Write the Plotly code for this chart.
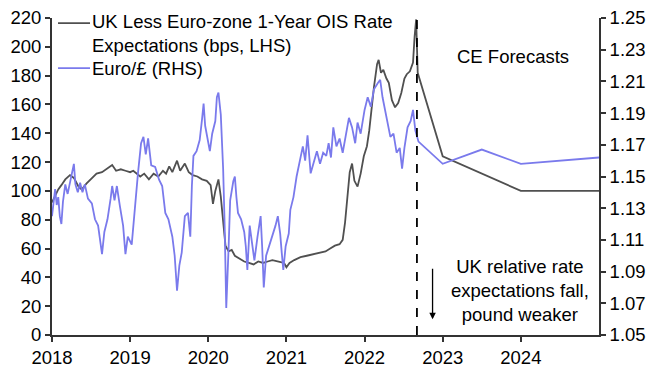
import plotly.graph_objects as go

# ---- data ----
ois_t = [2018.00, 2018.04, 2018.08, 2018.12, 2018.17, 2018.23, 2018.28, 2018.34, 2018.38, 2018.44,
         2018.50, 2018.57, 2018.64, 2018.71, 2018.77, 2018.82, 2018.88, 2018.94, 2019.00, 2019.04,
         2019.09, 2019.13, 2019.18, 2019.24, 2019.30, 2019.36, 2019.42, 2019.46, 2019.50, 2019.54,
         2019.60, 2019.64, 2019.70, 2019.75, 2019.80, 2019.86, 2019.92, 2019.98, 2020.03, 2020.06,
         2020.09, 2020.13, 2020.16, 2020.19, 2020.22, 2020.26, 2020.30, 2020.34, 2020.40, 2020.46,
         2020.52, 2020.58, 2020.64, 2020.70, 2020.76, 2020.82, 2020.90, 2020.97, 2021.00, 2021.04,
         2021.10, 2021.18, 2021.26, 2021.34, 2021.42, 2021.50, 2021.56, 2021.62, 2021.68, 2021.72,
         2021.75, 2021.78, 2021.81, 2021.84, 2021.87, 2021.91, 2021.95, 2021.99, 2022.03, 2022.06,
         2022.09, 2022.12, 2022.16, 2022.18, 2022.21, 2022.24, 2022.28, 2022.31, 2022.35, 2022.39,
         2022.43, 2022.47, 2022.51, 2022.54, 2022.58, 2022.62, 2022.64, 2022.66]
ois_v = [92, 97, 101, 104, 108, 111, 109, 103, 101, 105,
         108, 112, 113, 116, 118, 114, 115, 114, 113, 114,
         112, 110, 112, 108, 112, 110, 114, 112, 117, 113,
         121, 114, 119, 113, 111, 110, 108, 107, 104, 91,
         100, 108, 96, 80, 62, 58, 59, 55, 53, 51,
         50, 49, 51, 50, 51, 52, 51, 50, 47, 50,
         52, 54, 55, 56, 57, 58, 60, 62, 63, 66,
         78, 95, 113, 119, 107, 103, 112, 124, 131, 142,
         158, 172, 188, 191, 182, 184, 178, 175, 163, 158,
         161, 168, 178, 181, 183, 189, 207, 219]
ois_fc_t = [2022.68, 2023.0, 2024.0, 2025.0]
ois_fc_v = [182, 124, 100, 100]

fx_t = [2018.00, 2018.02, 2018.04, 2018.06, 2018.08, 2018.10, 2018.12, 2018.14, 2018.17, 2018.20,
        2018.24, 2018.28, 2018.30, 2018.33, 2018.36, 2018.39, 2018.42, 2018.46, 2018.51, 2018.55,
        2018.59, 2018.64, 2018.67, 2018.71, 2018.75, 2018.77, 2018.80, 2018.83, 2018.87, 2018.91,
        2018.94, 2018.97, 2019.02, 2019.05, 2019.08, 2019.10, 2019.14, 2019.17, 2019.20, 2019.23,
        2019.27, 2019.32, 2019.37, 2019.41, 2019.45, 2019.49, 2019.54, 2019.57, 2019.60, 2019.63,
        2019.66, 2019.70, 2019.74, 2019.77, 2019.79, 2019.81, 2019.85, 2019.89, 2019.92, 2019.94,
        2019.96, 2019.99, 2020.02, 2020.05, 2020.09, 2020.11, 2020.13, 2020.16, 2020.19, 2020.21,
        2020.23, 2020.26, 2020.28, 2020.32, 2020.34, 2020.36, 2020.38, 2020.42, 2020.46, 2020.48,
        2020.50, 2020.53, 2020.56, 2020.59, 2020.63, 2020.67, 2020.69, 2020.71, 2020.74, 2020.78,
        2020.82, 2020.86, 2020.89, 2020.92, 2020.94, 2020.96, 2020.99, 2021.03, 2021.05, 2021.09,
        2021.13, 2021.18, 2021.21, 2021.24, 2021.27, 2021.31, 2021.35, 2021.39, 2021.43, 2021.47,
        2021.51, 2021.54, 2021.57, 2021.60, 2021.64, 2021.68, 2021.72, 2021.76, 2021.80, 2021.84,
        2021.88, 2021.91, 2021.95, 2022.00, 2022.04, 2022.08, 2022.12, 2022.17, 2022.20, 2022.23,
        2022.26, 2022.29, 2022.33, 2022.37, 2022.41, 2022.45, 2022.48, 2022.51, 2022.55, 2022.59,
        2022.62, 2022.65, 2022.67]
fx_v = [1.125, 1.136, 1.142, 1.132, 1.137, 1.125, 1.120, 1.134, 1.145, 1.139,
        1.148, 1.158, 1.145, 1.140, 1.146, 1.140, 1.145, 1.136, 1.133, 1.123,
        1.119, 1.101, 1.115, 1.123, 1.136, 1.144, 1.135, 1.144, 1.131, 1.119,
        1.101, 1.112, 1.107, 1.125, 1.138, 1.152, 1.171, 1.175, 1.164, 1.174,
        1.157, 1.156, 1.148, 1.144, 1.127, 1.123, 1.112, 1.100, 1.078, 1.094,
        1.102, 1.125, 1.127, 1.112, 1.144, 1.163, 1.166, 1.173, 1.186, 1.196,
        1.182, 1.173, 1.166, 1.177, 1.185, 1.200, 1.203, 1.189, 1.155, 1.118,
        1.067, 1.105, 1.135, 1.147, 1.150, 1.137, 1.127, 1.123, 1.115, 1.106,
        1.091, 1.119, 1.106, 1.097, 1.112, 1.125, 1.105, 1.080, 1.100, 1.106,
        1.112, 1.119, 1.125, 1.114, 1.102, 1.091, 1.106, 1.114, 1.129, 1.137,
        1.150, 1.163, 1.169, 1.160, 1.176, 1.152, 1.160, 1.166, 1.158, 1.165,
        1.163, 1.171, 1.162, 1.181, 1.169, 1.174, 1.165, 1.177, 1.187, 1.181,
        1.171, 1.184, 1.177, 1.192, 1.200, 1.194, 1.205, 1.209, 1.211, 1.200,
        1.192, 1.185, 1.175, 1.177, 1.165, 1.168, 1.155, 1.168, 1.181, 1.185,
        1.192, 1.179, 1.175]
fx_fc_t = [2022.69, 2023.0, 2023.5, 2024.0, 2025.0]
fx_fc_v = [1.172, 1.158, 1.167, 1.158, 1.162]

forecast_start = 2022.67
year_ticks = [2018, 2019, 2020, 2021, 2022, 2023, 2024]
year_labels = ["2018", "2019", "2020", "2021", "2022", "2023", "2024"]
left_ticks = list(range(0, 221, 20))
right_ticks = [1.05, 1.07, 1.09, 1.11, 1.13, 1.15, 1.17, 1.19, 1.21, 1.23, 1.25]
series_names = ["UK Less Euro-zone 1-Year OIS Rate<br>Expectations (bps, LHS)", "Euro/£ (RHS)"]

GRAY = "#505050"
BLUE = "#7a7aec"
FONT = "Liberation Sans, Arial, sans-serif"
FS = 18.5

fig = go.Figure()
fig.add_trace(go.Scatter(
    x=ois_t + ois_fc_t, y=ois_v + ois_fc_v, mode="lines",
    line=dict(color=GRAY, width=1.8), name=series_names[0], showlegend=False,
    yaxis="y"))
fig.add_trace(go.Scatter(
    x=fx_t + fx_fc_t, y=fx_v + fx_fc_v, mode="lines",
    line=dict(color=BLUE, width=1.8), name=series_names[1], showlegend=False,
    yaxis="y2"))

fig.add_shape(type="line", xref="x", yref="paper", x0=forecast_start, x1=forecast_start,
              y0=0, y1=1, line=dict(color="black", width=1.8, dash="dash"))

# legend (drawn as key lines + text, top-left inside the plot)
legend_rows = [(0.984, 0.951, GRAY), (0.842, 0.842, BLUE)]
for (ly, ty, col), name in zip(legend_rows, series_names):
    fig.add_shape(type="line", xref="paper", yref="paper", x0=0.011, x1=0.0695, y0=ly, y1=ly,
                  line=dict(color=col, width=1.8))
    fig.add_annotation(x=0.0695, y=ty, xref="paper", yref="paper", text=name, showarrow=False,
                       xanchor="left", yanchor="middle", align="left",
                       font=dict(size=FS, color="black", family=FONT))

fig.add_annotation(x=2023.9, y=193, xref="x", yref="y", text="CE Forecasts",
                   showarrow=False, font=dict(size=FS, color="black", family=FONT))
fig.add_annotation(x=2023.99, y=31, xref="x", yref="y",
                   text="UK relative rate<br>expectations fall,<br>pound weaker",
                   showarrow=False, align="center", font=dict(size=FS, color="black", family=FONT))
fig.add_annotation(x=2022.87, y=11, ax=2022.87, ay=47, xref="x", yref="y", axref="x", ayref="y",
                   text="", showarrow=True, arrowhead=2, arrowsize=1, arrowwidth=1.3,
                   arrowcolor="black")

axis_common = dict(showline=True, linecolor="#333333", linewidth=1.8, ticks="outside",
                   ticklen=5, tickwidth=1.5, tickcolor="#333333", showgrid=False, zeroline=False,
                   automargin=False,
                   tickfont=dict(size=FS, color="black", family=FONT))

fig.update_layout(
    width=658, height=372,
    margin=dict(l=52, r=59, t=18, b=37),
    paper_bgcolor="white", plot_bgcolor="white",
    font=dict(family=FONT, size=FS, color="black"),
    showlegend=False,
    xaxis=dict(range=[2018, 2025], tickvals=year_ticks, ticktext=year_labels, **axis_common),
    yaxis=dict(range=[0, 220], tickvals=left_ticks, **axis_common),
    yaxis2=dict(range=[1.05, 1.25], tickvals=right_ticks, tickformat=".2f", overlaying="y",
                side="right", **axis_common),
)

fig.write_html("out.html", config={"displayModeBar": False},
               post_script="document.body.style.margin='0';document.body.style.padding='0';")
